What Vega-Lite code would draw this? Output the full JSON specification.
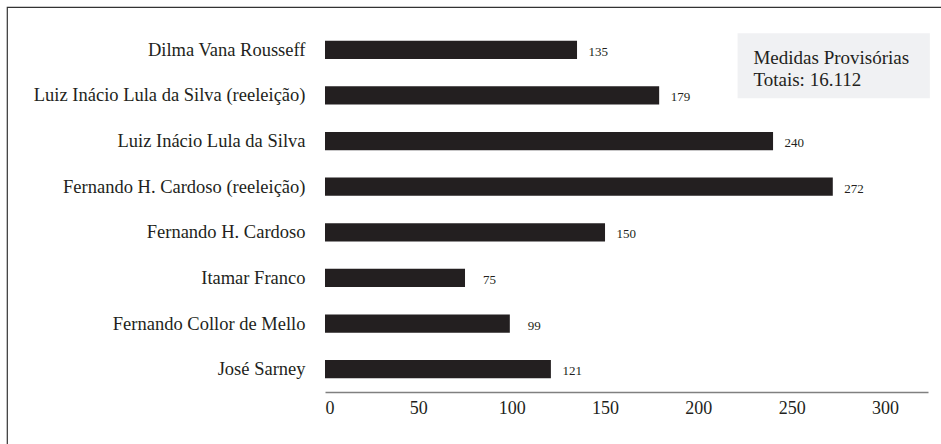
{
  "$schema": "https://vega.github.io/schema/vega-lite/v6.json",
  "width": 940,
  "height": 440,
  "autosize": {"type": "none"},
  "padding": {"left": 7, "top": 7, "right": 0, "bottom": 0},
  "background": "white",
  "config": {
    "view": {"stroke": "#333333", "strokeWidth": 1.2}
  },
  "data": {
    "values": [
      {"presidente": "Dilma Vana Rousseff", "mps": 135},
      {"presidente": "Luiz Inácio Lula da Silva (reeleição)", "mps": 179},
      {"presidente": "Luiz Inácio Lula da Silva", "mps": 240},
      {"presidente": "Fernando H. Cardoso (reeleição)", "mps": 272},
      {"presidente": "Fernando H. Cardoso", "mps": 150},
      {"presidente": "Itamar Franco", "mps": 75},
      {"presidente": "Fernando Collor de Mello", "mps": 99},
      {"presidente": "José Sarney", "mps": 121}
    ]
  },
  "layer": [
    {
      "mark": {"type": "bar", "color": "#231f20"},
      "encoding": {
        "y": {
          "field": "presidente",
          "type": "nominal",
          "sort": null,
          "scale": {"range": [20, 385], "paddingInner": 0.6, "paddingOuter": 0.3},
          "axis": {
            "title": null,
            "orient": "left",
            "offset": -318,
            "domain": false,
            "ticks": false,
            "labelPadding": 20,
            "labelFont": "Liberation Serif",
            "labelFontSize": 18.5,
            "labelColor": "#231f20",
            "labelLimit": 500
          }
        },
        "x": {
          "field": "mps",
          "type": "quantitative",
          "scale": {"domain": [0, 323], "range": [318, 921], "nice": false},
          "axis": {
            "title": null,
            "orient": "bottom",
            "offset": -55,
            "values": [0, 50, 100, 150, 200, 250, 300],
            "grid": false,
            "ticks": false,
            "domain": true,
            "domainColor": "#808080",
            "domainWidth": 1.5,
            "labelPadding": 7,
            "labelFont": "Liberation Serif",
            "labelFontSize": 18,
            "labelColor": "#231f20"
          }
        }
      }
    },
    {
      "mark": {
        "type": "text",
        "align": "right",
        "baseline": "middle",
        "dx": 31,
        "dy": 2,
        "font": "Liberation Serif",
        "fontSize": 13,
        "color": "#231f20"
      },
      "encoding": {
        "y": {"field": "presidente", "type": "nominal", "sort": null},
        "x": {"field": "mps", "type": "quantitative"},
        "text": {"field": "mps", "type": "quantitative"}
      }
    },
    {
      "transform": [{"filter": "datum.presidente === 'Dilma Vana Rousseff'"}],
      "mark": {"type": "rect", "fill": "#f0f1f3", "height": 65, "yOffset": 16},
      "encoding": {
        "x": {"datum": 221, "type": "quantitative"},
        "x2": {"datum": 324},
        "y": {"datum": "Dilma Vana Rousseff", "type": "nominal"}
      }
    },
    {
      "transform": [{"filter": "datum.presidente === 'Dilma Vana Rousseff'"}],
      "mark": {
        "type": "text",
        "text": ["Medidas Provisórias", "Totais: 16.112"],
        "align": "left",
        "baseline": "alphabetic",
        "dy": 14,
        "lineHeight": 22,
        "font": "Liberation Serif",
        "fontSize": 19,
        "color": "#231f20"
      },
      "encoding": {
        "x": {"datum": 229.5, "type": "quantitative"},
        "y": {"datum": "Dilma Vana Rousseff", "type": "nominal"}
      }
    }
  ]
}
